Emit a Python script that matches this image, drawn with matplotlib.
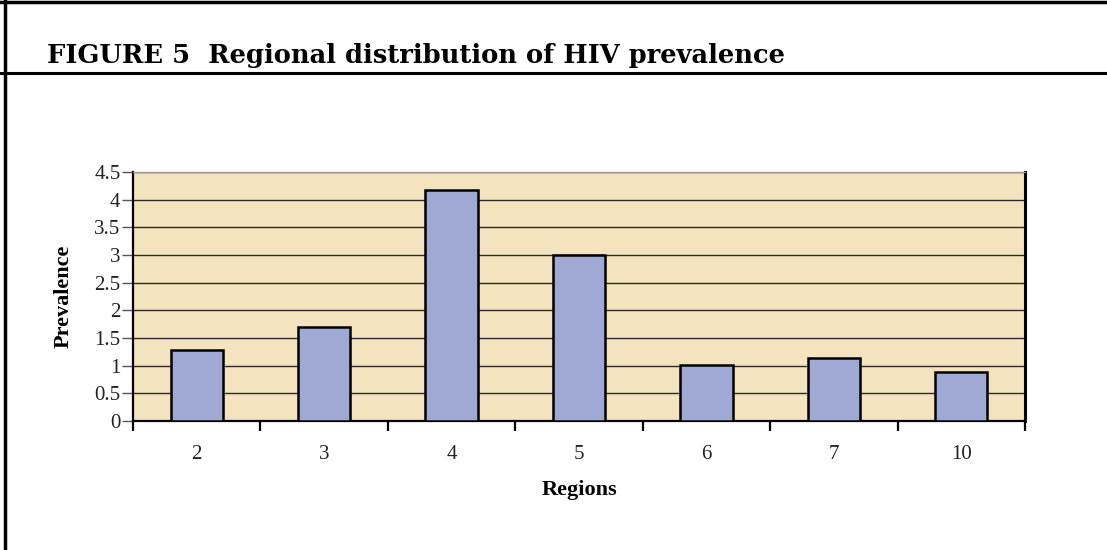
import numpy as np
import matplotlib.pyplot as plt
from matplotlib.lines import Line2D

# data
regions = ["2", "3", "4", "5", "6", "7", "10"]
prevalence = [1.28, 1.70, 4.18, 3.00, 1.01, 1.14, 0.89]
yticks = [0, 0.5, 1, 1.5, 2, 2.5, 3, 3.5, 4, 4.5]

plt.rcParams['font.family'] = ['Liberation Serif', 'DejaVu Serif']

fig = plt.figure(figsize=(11.07, 5.5), dpi=100)
ax = fig.add_axes([133/1107, 1 - 421/550, (1025 - 133)/1107, (421 - 172)/550])

x = np.arange(len(regions))
ax.set_facecolor('#f3e3bf')
ax.bar(x, prevalence, width=0.41, color='#a0a8d4', edgecolor='black', linewidth=1.8, zorder=3)

ax.set_ylim(0, 4.5)
ax.set_xlim(-0.5, len(regions) - 0.5)
ax.set_yticks(yticks)
ax.set_yticklabels([f"{t:g}" for t in yticks], fontsize=15, color='#222222')
ax.yaxis.grid(True, color='#2a2a2a', linewidth=1.0, zorder=1)
ax.set_axisbelow(True)

ax.set_xticks(x)
ax.set_xticklabels(regions, fontsize=15, color='#222222')
ax.tick_params(axis='x', which='major', length=0, pad=17)
ax.set_xticks(np.arange(len(regions) + 1) - 0.5, minor=True)
ax.tick_params(axis='x', which='minor', length=7, width=1.6, direction='out', color='black')
ax.tick_params(axis='y', length=8, width=1, color='#555555', pad=1)

for s in ['left', 'bottom']:
    ax.spines[s].set_linewidth(1.6)
    ax.spines[s].set_color('black')
ax.spines['right'].set_linewidth(2.2)
ax.spines['top'].set_color('#999999')
ax.spines['top'].set_linewidth(1)

ax.set_ylabel("Prevalence", fontsize=16, fontweight='bold', labelpad=15)
ax.set_xlabel("Regions", fontsize=16, fontweight='bold', labelpad=12)

# frame and title
fig.add_artist(Line2D([5/1107, 5/1107], [0, 1], color='black', linewidth=2.5))
fig.add_artist(Line2D([0, 1], [1 - 2/550, 1 - 2/550], color='black', linewidth=2.5))
fig.add_artist(Line2D([0, 1], [1 - 73/550, 1 - 73/550], color='black', linewidth=2.2))
fig.text(47/1107, 1 - 63/550, "FIGURE 5  Regional distribution of HIV prevalence",
         fontsize=18.5, fontweight='bold', va='baseline', ha='left',
         family=['DejaVu Serif'])

fig.savefig('out.png', dpi=100)
